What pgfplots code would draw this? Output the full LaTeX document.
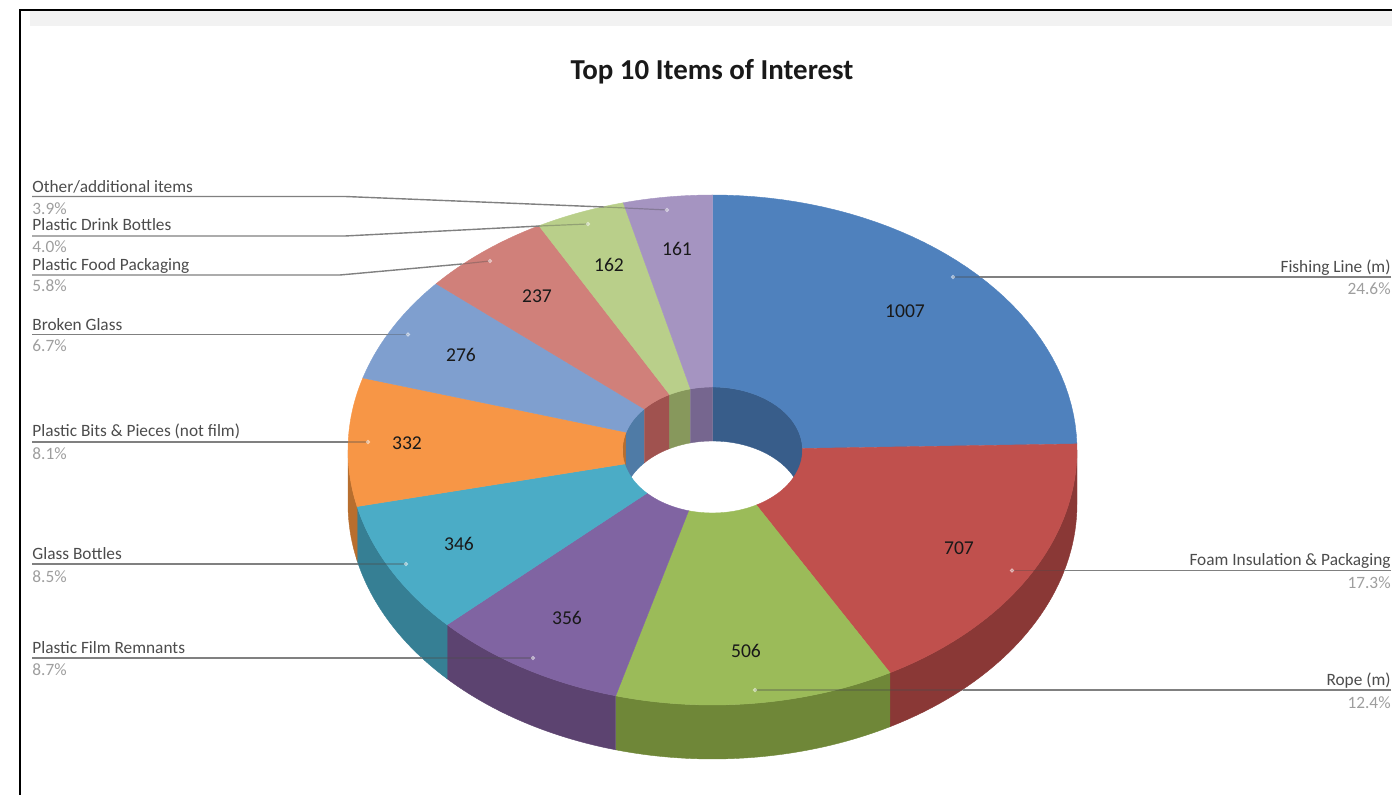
\documentclass[border=0pt]{standalone}
\usepackage{fontspec}
\setmainfont{Carlito}
\usepackage{pgfplots}
\usepackage{pgfplotstable}
\pgfplotsset{compat=1.18}

% Item counts, clockwise from twelve o'clock
\pgfplotstableread{
value
1007
707
506
356
346
332
276
237
162
161
}\itemtable
\def\total{4090}

% Ring geometry, in the axis' pixel-like units
\def\cx{712.5}\def\cy{450}
\def\orx{364.5}\def\ory{255}
\def\irx{90}\def\iry{63}
\def\depth{54}

\definecolor{face0}{HTML}{4F81BD}\definecolor{wall0}{HTML}{385D8A}\definecolor{inner0}{HTML}{385D8A}
\definecolor{face1}{HTML}{C0504D}\definecolor{wall1}{HTML}{8A3836}\definecolor{inner1}{HTML}{8A3836}
\definecolor{face2}{HTML}{9BBB59}\definecolor{wall2}{HTML}{6F8738}\definecolor{inner2}{HTML}{6F8738}
\definecolor{face3}{HTML}{8064A2}\definecolor{wall3}{HTML}{5C4370}\definecolor{inner3}{HTML}{5C4370}
\definecolor{face4}{HTML}{4BACC6}\definecolor{wall4}{HTML}{367F94}\definecolor{inner4}{HTML}{367F94}
\definecolor{face5}{HTML}{F79646}\definecolor{wall5}{HTML}{B86E2E}\definecolor{inner5}{HTML}{B86E2E}
\definecolor{face6}{HTML}{7F9FCF}\definecolor{wall6}{HTML}{4F7BA6}\definecolor{inner6}{HTML}{4F7BA6}
\definecolor{face7}{HTML}{D0807A}\definecolor{wall7}{HTML}{A0524F}\definecolor{inner7}{HTML}{A0524F}
\definecolor{face8}{HTML}{B9CF8A}\definecolor{wall8}{HTML}{87985C}\definecolor{inner8}{HTML}{87985C}
\definecolor{face9}{HTML}{A594C1}\definecolor{wall9}{HTML}{76668F}\definecolor{inner9}{HTML}{76668F}

% Append an elliptical arc to \ptlist: centre y, radii, start and end angle
\newcommand{\addarc}[5]{%
  \foreach \i in {0,...,40}{%
    \pgfmathsetmacro\tang{#4+(#5-#4)*\i/40}%
    \pgfmathsetmacro\px{\cx+#2*sin(\tang)}%
    \pgfmathsetmacro\py{#1-#3*cos(\tang)}%
    \xdef\ptlist{\ptlist (\px,\py)}%
  }}

% Closed polygon between the arc on the top plane and the one a depth below
\newcommand{\wallpoly}[5]{%
  \ifdim #3pt<#4pt
    \gdef\ptlist{}%
    \addarc{\cy}{#1}{#2}{#3}{#4}%
    \pgfmathsetmacro\cyb{\cy+\depth}%
    \addarc{\cyb}{#1}{#2}{#4}{#3}%
    \edef\temp{\noexpand\addplot[fill=#5,draw=#5,line width=0.2pt] coordinates {\ptlist} -- cycle;}%
    \temp
  \fi}

% Run #1 once per slice with \aS and \aE holding its angles
\newcommand{\forslices}[1]{%
  \def\cum{0}%
  \pgfplotsforeachungrouped \idx in {0,...,9}{%
    \pgfplotstablegetelem{\idx}{value}\of\itemtable
    \pgfmathsetmacro\aS{\cum/\total*360}%
    \pgfmathsetmacro\cumn{\cum+\pgfplotsretval}%
    \pgfmathsetmacro\aE{\cumn/\total*360}%
    \let\cum\cumn
    #1%
  }}

\newcommand{\outerwall}{%
  \pgfmathsetmacro\lo{max(\aS,90)}\pgfmathsetmacro\hi{min(\aE,270)}%
  \wallpoly{\orx}{\ory}{\lo}{\hi}{wall\idx}}
\newcommand{\innerwall}{%
  \pgfmathsetmacro\lo{max(\aS,0)}\pgfmathsetmacro\hi{min(\aE,90)}%
  \wallpoly{\irx}{\iry}{\lo}{\hi}{inner\idx}%
  \pgfmathsetmacro\lo{max(\aS,270)}\pgfmathsetmacro\hi{min(\aE,360)}%
  \wallpoly{\irx}{\iry}{\lo}{\hi}{inner\idx}}
\newcommand{\topface}{%
  \gdef\ptlist{}%
  \addarc{\cy}{\orx}{\ory}{\aS}{\aE}%
  \addarc{\cy}{\irx}{\iry}{\aE}{\aS}%
  \edef\temp{\noexpand\addplot[fill=face\idx,draw=face\idx,line width=0.2pt] coordinates {\ptlist} -- cycle;}%
  \temp}

\tikzset{
  catname/.style={text=black!70,font=\fontsize{8.65pt}{10pt}\selectfont,inner sep=0pt},
  catshare/.style={text=black!38,font=\fontsize{8.65pt}{10pt}\selectfont,inner sep=0pt}}
\newcommand{\labL}[4]{\node[anchor=base west,catname] at (axis cs:32,#1) {#2};%
  \node[anchor=base west,catshare] at (axis cs:32,#3) {#4};}
\newcommand{\labR}[4]{\node[anchor=base east,catname] at (axis cs:1391,#1) {#2};%
  \node[anchor=base east,catshare] at (axis cs:1391,#3) {#4};}
\newcommand{\val}[3]{\node[font=\fontsize{9.8pt}{11pt}\selectfont,text=black!90,inner sep=0pt] at (axis cs:#1,#2) {#3};}

\pgfplotsset{
  leader/.style={black!50,line width=0.7pt},
  leader over/.style={black!70,opacity=0.35,line width=0.6pt}}

\begin{document}
\begin{tikzpicture}
\useasboundingbox (0,0) rectangle (696pt,397.5pt);
\begin{axis}[
  at={(0,0)},anchor=south west,
  scale only axis,width=696pt,height=397.5pt,
  xmin=0,xmax=1392,ymin=0,ymax=795,y dir=reverse,
  hide axis,clip=true]

% Page frame and pale band under its top edge
\addplot[fill=black!5,draw=none] coordinates {(30,11) (1392,11) (1392,26) (30,26)} -- cycle;
\addplot[black,line width=1.4pt] coordinates {(20,795) (20,10) (1392,10)};

\forslices{\outerwall}
\forslices{\innerwall}
\forslices{\topface}

% Leader lines outside the ring
\addplot[leader] coordinates {(32,196.5) (345,196.5) (604,207)};
\addplot[leader] coordinates {(32,236) (345,236) (540,226)};
\addplot[leader] coordinates {(32,275) (340,275) (462,264)};
\addplot[leader] coordinates {(32,334.5) (388,334.5)};
\addplot[leader] coordinates {(32,442) (348,442)};
\addplot[leader] coordinates {(32,564) (358,564)};
\addplot[leader] coordinates {(32,658) (422,658)};
\addplot[leader] coordinates {(1391,277) (980,277)};
\addplot[leader] coordinates {(1391,570.5) (1064,570.5)};
\addplot[leader] coordinates {(1391,690) (963,690)};

% Their fainter continuation over the ring
\addplot[leader over] coordinates {(604,207) (667,210)};
\addplot[leader over] coordinates {(540,226) (588,224)};
\addplot[leader over] coordinates {(462,264) (490,261)};
\addplot[leader over] coordinates {(388,334.5) (408,334.5)};
\addplot[leader over] coordinates {(348,442) (368,442)};
\addplot[leader over] coordinates {(358,564) (406,564)};
\addplot[leader over] coordinates {(422,658) (533,658)};
\addplot[leader over] coordinates {(980,277) (953,277)};
\addplot[leader over] coordinates {(1064,570.5) (1012,570.5)};
\addplot[leader over] coordinates {(963,690) (755,690)};

% Leader end points
\addplot[only marks,mark=*,mark size=0.9pt,color=white,opacity=0.4,mark options={draw=none}] coordinates {
 (667,210) (588,224) (490,261) (408,334.5) (368,442) (406,564) (533,658) (953,277) (1012,570.5) (755,690)};

% Category names and shares
\labL{192.5}{Other/additional items}{215}{3.9\%}
\labL{230.5}{Plastic Drink Bottles}{253}{4.0\%}
\labL{270.5}{Plastic Food Packaging}{292}{5.8\%}
\labL{330.5}{Broken Glass}{352}{6.7\%}
\labL{436.5}{Plastic Bits \& Pieces (not film)}{460}{8.1\%}
\labL{559.5}{Glass Bottles}{583}{8.5\%}
\labL{653.5}{Plastic Film Remnants}{676}{8.7\%}
\labR{272.5}{Fishing Line (m)}{295}{24.6\%}
\labR{565.5}{Foam Insulation \& Packaging}{589}{17.3\%}
\labR{685.5}{Rope (m)}{709}{12.4\%}

% Item counts on the slices
\val{905}{311}{1007}
\val{959}{548}{707}
\val{746}{651}{506}
\val{567}{618}{356}
\val{459}{544}{346}
\val{407}{443}{332}
\val{461}{355}{276}
\val{537}{296}{237}
\val{609}{265}{162}
\val{677}{249}{161}

% Chart title
\node[font=\bfseries\fontsize{14.45pt}{16pt}\selectfont,text=black!90,inner sep=0pt] at (axis cs:712,71.5) {Top 10 Items of Interest};
\end{axis}
\end{tikzpicture}
\end{document}
